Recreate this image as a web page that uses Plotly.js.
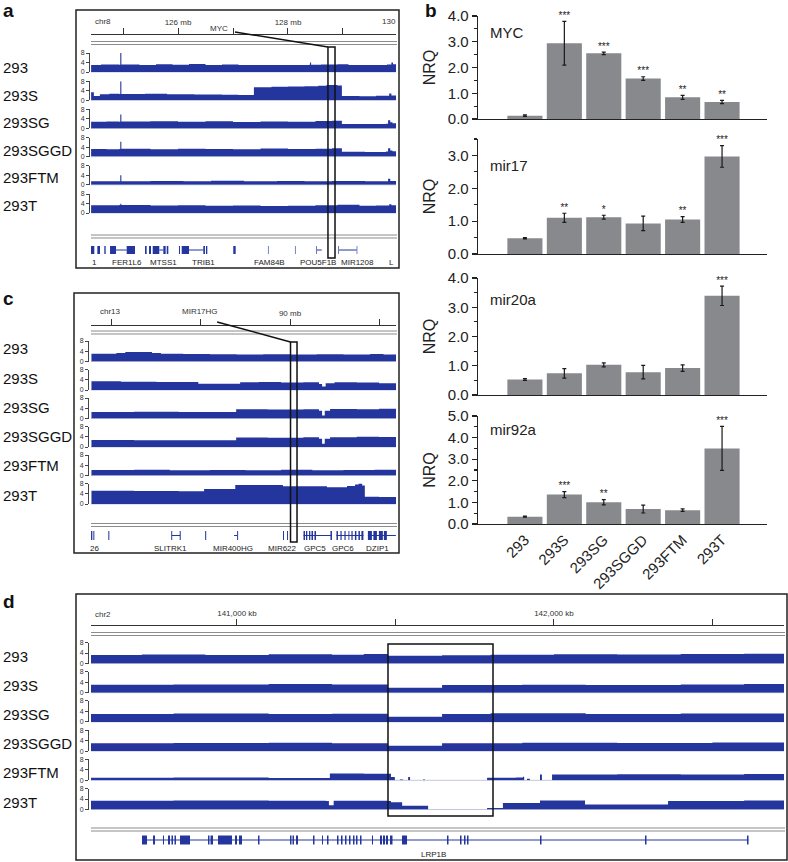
<!DOCTYPE html>
<html><head><meta charset="utf-8">
<script src="https://cdn.plot.ly/plotly-3.0.1.min.js"></script>
<style>html,body{margin:0;padding:0;background:#fff;}#chart{width:788px;height:862px;}</style>
</head><body><div id="chart"></div>
<script>
// ================= DATA =================
const samples = ['293','293S','293SG','293SGGD','293FTM','293T'];

// ---- Panel a: chr8 coverage, x in Mb, value on 0-8 scale ----
const a293 = [[124.42,3.0],[124.6,3.2],[124.93,3.1],[124.95,8],[124.97,3.2],[125.3,3.0],[125.6,3.3],[125.9,3.1],[126.2,3.4],[126.5,3.0],[126.8,3.2],[127.1,3.0],[127.4,2.9],[127.7,3.0],[128.38,3.1],[128.4,4.0],[128.42,3.1],[128.6,3.2],[128.9,3.3],[129.1,2.9],[129.5,3.0],[129.8,3.2],[129.88,4.0],[129.91,3.3],[129.97,3.3]];
const a293S = [[124.42,3.3],[124.47,1.8],[124.58,2.5],[124.75,2.7],[124.93,2.6],[124.95,8],[124.97,2.6],[125.4,2.7],[125.8,2.5],[126.3,2.4],[126.8,2.3],[127.1,2.2],[127.38,5.5],[127.7,5.7],[128.0,5.8],[128.3,5.9],[128.55,6.1],[128.7,6.4],[128.9,6.2],[128.98,1.8],[129.3,1.7],[129.6,1.9],[129.84,2.8],[129.88,2.0],[129.97,2.0]];
const a293SG = [[124.42,2.8],[124.7,2.9],[124.93,2.8],[124.95,5.8],[124.97,2.9],[125.5,3.0],[126.0,2.8],[126.5,3.0],[127.0,2.7],[127.5,2.9],[128.0,2.8],[128.5,3.1],[128.8,3.2],[128.98,1.8],[129.4,1.9],[129.78,2.0],[129.82,3.4],[129.86,2.6],[129.9,2.2],[129.97,2.4]];
const a293SGGD = [[124.42,3.2],[124.7,3.1],[124.93,3.2],[124.95,6.3],[124.97,3.3],[125.5,3.1],[126.0,3.3],[126.5,3.2],[127.0,3.1],[127.5,3.4],[128.0,3.2],[128.5,3.3],[128.8,3.5],[128.98,2.0],[129.4,1.9],[129.78,2.1],[129.82,3.5],[129.86,2.6],[129.9,2.3],[129.97,2.5]];
const a293FTM = [[124.42,1.5],[124.93,1.5],[124.95,4.0],[124.97,1.5],[125.5,1.6],[126.1,1.5],[126.6,1.7],[127.2,1.5],[127.8,1.6],[128.3,1.5],[128.8,1.6],[129.4,1.5],[129.82,2.5],[129.86,1.6],[129.97,1.6]];
const a293T = [[124.42,3.3],[124.93,3.4],[124.95,3.9],[124.97,3.4],[125.5,3.2],[126.0,3.3],[126.5,3.1],[127.0,3.2],[127.5,3.0],[128.0,3.1],[128.5,3.3],[128.9,3.5],[129.3,3.1],[129.6,3.2],[129.84,3.7],[129.88,3.3],[129.97,3.3]];

// ---- Panel c: chr13 coverage ----
const c293 = [[85.54,3.0],[86.1,3.3],[86.3,3.7],[86.9,3.3],[87.1,3.0],[87.6,2.9],[88.2,2.8],[88.8,2.7],[89.4,2.8],[90.0,2.7],[90.6,2.8],[91.2,2.7],[91.8,2.9],[92.1,2.7],[92.38,2.7]];
const c293S = [[85.54,3.4],[86.2,3.2],[87.0,3.1],[87.94,2.4],[88.88,3.0],[89.3,3.1],[89.8,2.9],[90.3,3.0],[90.65,2.3],[90.72,1.4],[90.8,2.6],[91.0,3.0],[91.5,2.9],[92.0,2.6],[92.38,2.6]];
const c293SG = [[85.54,2.5],[86.5,2.6],[87.5,2.5],[88.79,3.6],[89.5,3.5],[90.3,3.6],[90.65,3.0],[90.72,1.2],[90.78,3.0],[90.9,3.7],[91.5,3.6],[92.0,3.8],[92.38,3.7]];
const c293SGGD = [[85.54,2.7],[86.5,2.6],[87.5,2.6],[88.79,3.7],[89.5,3.6],[90.3,3.8],[90.65,3.2],[90.72,1.3],[90.78,3.2],[90.9,3.8],[91.5,4.0],[92.0,3.9],[92.38,3.7]];
const c293FTM = [[85.54,2.1],[86.5,2.2],[87.3,2.0],[88.2,2.1],[89.0,2.0],[89.8,2.2],[90.5,2.0],[91.2,2.1],[91.9,2.2],[92.38,2.1]];
const c293T = [[85.54,5.2],[86.5,5.1],[87.5,5.0],[88.07,5.9],[88.77,7.4],[89.84,6.9],[90.83,6.5],[91.28,7.0],[91.46,7.6],[91.54,8.0],[91.62,7.2],[91.68,2.8],[92.0,2.7],[92.38,2.6]];

// ---- Panel d: chr2 coverage, x in kb ----
const d293 = [[140539,3.2],[140700,3.4],[140900,3.2],[141100,3.5],[141300,3.3],[141400,3.6],[141476,3.0],[141647,3.1],[141800,3.3],[142000,3.5],[142200,3.4],[142400,3.6],[142600,3.7],[142726,3.6]];
const d293S = [[140539,3.0],[140800,3.1],[141100,3.3],[141300,3.1],[141476,1.9],[141647,2.9],[141900,3.0],[142100,2.9],[142400,3.1],[142600,3.3],[142726,3.2]];
const d293SG = [[140539,3.0],[140800,3.2],[141100,3.0],[141300,3.1],[141476,2.0],[141647,3.0],[141800,3.3],[142100,3.0],[142400,3.2],[142726,3.1]];
const d293SGGD = [[140539,3.0],[140800,3.1],[141100,3.2],[141300,3.0],[141476,2.0],[141647,3.0],[141900,3.2],[142200,3.1],[142500,3.3],[142726,3.2]];
const d293FTM = [[140539,1.0],[140800,1.1],[141100,0.9],[141293,2.6],[141400,2.5],[141486,1.3],[141498,0],[141514,0.3],[141524,0],[141540,1.3],[141546,0],[141587,0.3],[141593,0],[141789,1.0],[141880,1.1],[141902,1.4],[141906,0],[141915,0.6],[141924,0],[141956,2.2],[141962,0],[141994,2.2],[142200,2.3],[142400,2.2],[142600,2.4],[142726,2.3]];
const d293T = [[140539,3.3],[140800,3.4],[141100,3.3],[141280,3.2],[141290,1.6],[141305,3.3],[141476,3.2],[141486,2.8],[141521,1.4],[141603,0],[141789,0.6],[141839,2.5],[141956,3.4],[142098,1.9],[142360,3.2],[142600,3.4],[142726,3.3]];

// ---- Rulers ----
const rulerA_vals = [125,126,127,128,129];
const rulerA_text = ['','126 mb','','128 mb',''];
const rulerC_vals = [86,88,90,92];
const rulerC_text = ['','','90 mb',''];
const rulerD_vals = [141000,141500,142000,142500];
const rulerD_text = ['141,000 kb','','142,000 kb',''];

// ---- Gene tracks ----
const geneA_exons = [[124.413,124.478],[124.533,124.582],[124.660,124.685],[124.764,124.873],[125.067,125.218],[125.400,125.430],[125.473,125.509],[125.540,125.660],[125.733,125.776],[125.795,125.824],[126.018,126.036],[126.067,126.200],[126.460,126.490],[126.509,126.533],[127.005,127.049],[127.636,127.647],[128.127,128.138],[128.515,128.527],[128.915,128.927],[129.249,129.260]];
const geneA_introns = [[124.873,125.067],[125.660,125.733],[126.200,126.460],[128.527,128.613],[128.927,129.249]];
const geneA_names = ['1','FER1L6','MTSS1','TRIB1','FAM84B','POU5F1B','MIR1208','L'];
const geneA_pos = [124.49,125.07,125.73,126.47,127.67,128.55,129.27,129.89];

const geneC_exons = [[85.531,85.560],[85.583,85.605],[85.919,85.942],[87.332,87.354],[87.522,87.545],[88.094,88.117],[88.812,88.834],[89.843,89.865],[89.933,89.955],[90.303,90.336],[90.359,90.388],[90.426,90.455],[90.482,90.516],[90.549,90.583],[90.908,90.942],[91.043,91.076],[91.132,91.159],[91.222,91.249],[91.312,91.332],[91.379,91.406],[91.457,91.491],[91.536,91.570],[91.603,91.648],[91.749,91.839],[91.872,91.951],[91.996,92.085],[92.108,92.175]];
const geneC_introns = [[87.343,87.533],[88.744,88.812],[90.303,90.942],[91.043,91.648],[91.749,92.377]];
const geneC_names = ['26','SLITRK1','MIR400HG','MIR622','GPC5','GPC6','DZIP1'];
const geneC_pos = [85.605,87.31,88.72,89.82,90.56,91.19,91.97];

const geneD_exons = [[140700.3,140716.0],[140735.0,140741.3],[140766.5,140769.7],[140782.3,140788.6],[140793.3,140798.1],[140802.8,140807.5],[140820.2,140851.7],[140908.5,140913.2],[140916.4,140924.3],[140940.1,140984.2],[140993.7,141000],[141006.3,141015.8],[141066.3,141071.0],[141167.2,141171.9],[141175.1,141179.8],[141186.1,141192.5],[141239.8,141244.5],[141268.2,141271.3],[141284.0,141288.7],[141315.5,141320.2],[141328.1,141332.9],[141340.7,141345.5],[141353.4,141358.1],[141366.0,141370.7],[141375.4,141380.2],[141388.1,141392.8],[141425.9,141429.1],[141451.2,141457.5],[141460.6,141466.9],[141470.1,141476.4],[141482.7,141490.6],[141520.6,141536.4],[141662.6,141667.3],[141703.6,141708.3],[141716.2,141721.0],[141725.7,141730.4],[141956.0,141960.7],[142287.2,142292.0],[142609.1,142613.8]];
const geneD_introns = [[140700.3,142613.8]];
const geneD_names = ['LRP1B'];
const geneD_pos = [141621.5];

// highlighted regions and marker gene positions
const hlA = [128.727,128.855]; const mycPos = 127.036;
const hlC = [90.011,90.157];   const mir17hgPos = 88.363;
const hlD = [141476.4,141807.7];

// ---- Panel b: qPCR NRQ ----
const nrqMYC   = [0.13, 2.94, 2.55, 1.57, 0.84, 0.66];
const errMYC   = [0.03, 0.85, 0.05, 0.07, 0.08, 0.06];
const sigMYC   = ['', '***', '***', '***', '**', '**'];
const nrqMir17 = [0.48, 1.10, 1.12, 0.93, 1.05, 2.97];
const errMir17 = [0.02, 0.14, 0.06, 0.22, 0.09, 0.33];
const sigMir17 = ['', '**', '*', '', '**', '***'];
const nrqMir20a = [0.53, 0.74, 1.03, 0.78, 0.92, 3.39];
const errMir20a = [0.03, 0.16, 0.07, 0.23, 0.11, 0.33];
const sigMir20a = ['', '', '', '', '', '***'];
const nrqMir92a = [0.34, 1.36, 1.01, 0.69, 0.64, 3.50];
const errMir92a = [0.02, 0.14, 0.12, 0.18, 0.06, 1.02];
const sigMir92a = ['', '***', '**', '', '', '***'];

// ================= DRAWING =================
const W = 788, H = 862;
const px = v => v / W, py = v => 1 - v / H;
const BLUE = '#24369e';
const FONT = '"Liberation Sans", Arial, Helvetica, sans-serif';
const shapes = [], annotations = [], traces = [];
const layout = {
  width: W, height: H, margin: {l:0, r:0, t:0, b:0},
  paper_bgcolor: '#ffffff', plot_bgcolor: 'rgba(0,0,0,0)',
  showlegend: false, hovermode: false,
  font: {family: FONT, color: '#222'}
};
const axKey = (p, n) => n === 1 ? p + 'axis' : p + 'axis' + n;
const axRef = (p, n) => n === 1 ? p : p + n;
let yCount = 0;

const panels = [
  {xn:1, box:[76,10,399,268], dom:[91,396], range:[124.418,129.964], ruler:34, tl:6,
   tv:rulerA_vals, tt:rulerA_text, dbl1:41.5, dbl2:235, base0:72, step:28.2, th:19, axX:89,
   lab0:67.5, labStep:27.6, geneY:250, geneH:8, geneLabY:262,
   tracks:[a293,a293S,a293SG,a293SGGD,a293FTM,a293T],
   exons:geneA_exons, introns:geneA_introns, gnames:geneA_names, gpos:geneA_pos},
  {xn:2, box:[74,293,399,553], dom:[91,396], range:[85.53,92.38], ruler:325, tl:6,
   tv:rulerC_vals, tt:rulerC_text, dbl1:331, dbl2:523.5, base0:361.5, step:28.5, th:20.5, axX:88,
   lab0:349, labStep:29.2, geneY:535.5, geneH:9, geneLabY:548,
   tracks:[c293,c293S,c293SG,c293SGGD,c293FTM,c293T],
   exons:geneC_exons, introns:geneC_introns, gnames:geneC_names, gpos:geneC_pos},
  {xn:3, box:[76,594,787,860], dom:[91,784], range:[140539.4,142725.8], ruler:625, tl:6,
   tv:rulerD_vals, tt:rulerD_text, dbl1:632.5, dbl2:828, base0:663.5, step:29.2, th:21, axX:88,
   lab0:656, labStep:29.2, geneY:840, geneH:9, geneLabY:854,
   tracks:[d293,d293S,d293SG,d293SGGD,d293FTM,d293T],
   exons:geneD_exons, introns:geneD_introns, gnames:geneD_names, gpos:geneD_pos}
];

panels.forEach(p => {
  const xr = axRef('x', p.xn);
  shapes.push({type:'rect', xref:'paper', yref:'paper', x0:px(p.box[0]), x1:px(p.box[2]),
    y0:py(p.box[3]), y1:py(p.box[1]), line:{color:'#222', width:1.5}, fillcolor:'rgba(0,0,0,0)'});
  layout[axKey('x', p.xn)] = {
    domain:[px(p.dom[0]), px(p.dom[1])], range:p.range, anchor:'free', position:py(p.ruler),
    side:'top', showline:true, linecolor:'#333', linewidth:1, ticks:'outside', ticklen:p.tl,
    tickwidth:1, tickcolor:'#333', tickmode:'array', tickvals:p.tv, ticktext:p.tt,
    tickfont:{size:8, color:'#333'}, showgrid:false, zeroline:false, fixedrange:true
  };
  [p.dbl1, p.dbl2].forEach(y => {
    [0, 3].forEach(o => shapes.push({type:'line', xref:'paper', yref:'paper',
      x0:px(p.dom[0]), x1:px(p.box[2]-2), y0:py(y+o), y1:py(y+o), line:{color:'#8c8c8c', width:1.2}}));
  });
  p.tracks.forEach((tr, i) => {
    yCount++;
    const base = p.base0 + p.step * i;
    layout[axKey('y', yCount)] = {
      domain:[py(base), py(base - p.th)], range:[0,8], anchor:'free', position:px(p.axX),
      showline:true, linecolor:'#444', linewidth:1, ticks:'outside', ticklen:3, tickwidth:1,
      tickcolor:'#444', tickmode:'array', tickvals:[0,4,8], tickfont:{size:7, color:'#333'},
      showgrid:false, zeroline:false, fixedrange:true
    };
    shapes.push({type:'line', xref:'paper', yref:'paper', x0:px(p.dom[0]), x1:px(p.dom[1]),
      y0:py(base), y1:py(base), line:{color:'#c3c7da', width:1}, layer:'below'});
    traces.push({type:'scatter', mode:'lines', x:tr.map(d => d[0]), y:tr.map(d => d[1]),
      xaxis:xr, yaxis:axRef('y', yCount), line:{shape:'hv', width:0, color:BLUE},
      fill:'tozeroy', fillcolor:BLUE, hoverinfo:'skip'});
    annotations.push({text:samples[i], xref:'paper', yref:'paper', x:px(1), y:py(p.lab0 + p.labStep * i),
      xanchor:'left', yanchor:'middle', showarrow:false, font:{size:15, color:'#111'}});
  });
  p.introns.forEach(g => shapes.push({type:'line', xref:xr, yref:'paper', x0:g[0], x1:g[1],
    y0:py(p.geneY), y1:py(p.geneY), line:{color:BLUE, width:1}}));
  p.exons.forEach(g => shapes.push({type:'rect', xref:xr, yref:'paper', x0:g[0], x1:g[1],
    y0:py(p.geneY + p.geneH/2), y1:py(p.geneY - p.geneH/2), line:{width:0}, fillcolor:BLUE}));
  p.gnames.forEach((n, k) => annotations.push({text:n, xref:xr, yref:'paper', x:p.gpos[k],
    y:py(p.geneLabY), xanchor:'center', yanchor:'middle', showarrow:false, font:{size:8, color:'#222'}}));
});

const rtxt = (t, x, y, anchor) => annotations.push({text:t, xref:'paper', yref:'paper', x:px(x), y:py(y),
  xanchor:anchor || 'center', yanchor:'middle', showarrow:false, font:{size:8, color:'#333'}});
rtxt('chr8', 103, 21); rtxt('MYC', 219, 29); rtxt('130', 398, 21, 'right');
rtxt('chr13', 110, 312); rtxt('MIR17HG', 200, 312);
rtxt('chr2', 103, 614);

const blk = {color:'#111', width:1.5};
shapes.push({type:'rect', xref:'x', yref:'paper', x0:hlA[0], x1:hlA[1], y0:py(258), y1:py(47), line:blk, fillcolor:'rgba(0,0,0,0)'});
shapes.push({type:'line', xref:'x', yref:'paper', x0:mycPos, x1:hlA[0], y0:py(32), y1:py(47), line:blk});
shapes.push({type:'rect', xref:'x2', yref:'paper', x0:hlC[0], x1:hlC[1], y0:py(542), y1:py(342), line:blk, fillcolor:'rgba(0,0,0,0)'});
shapes.push({type:'line', xref:'x2', yref:'paper', x0:mir17hgPos, x1:hlC[0], y0:py(322), y1:py(342), line:blk});
shapes.push({type:'rect', xref:'x3', yref:'paper', x0:hlD[0], x1:hlD[1], y0:py(816), y1:py(644), line:blk, fillcolor:'rgba(0,0,0,0)'});

// ---- Panel b ----
const barSets = [
  {name:'MYC',    v:nrqMYC,    e:errMYC,    s:sigMYC,    top:16,  bot:119, ymax:4,   labY:32},
  {name:'mir17',  v:nrqMir17,  e:errMir17,  s:sigMir17,  top:139, bot:254, ymax:3.5, labY:166},
  {name:'mir20a', v:nrqMir20a, e:errMir20a, s:sigMir20a, top:278, bot:395, ymax:4,   labY:300},
  {name:'mir92a', v:nrqMir92a, e:errMir92a, s:sigMir92a, top:416, bot:524, ymax:5,   labY:429}
];
barSets.forEach((b, k) => {
  const xn = 4 + k; yCount++;
  const yn = yCount;
  const last = k === barSets.length - 1;
  layout[axKey('x', xn)] = {
    domain:[px(478), px(767)], type:'category', categoryorder:'array', categoryarray:samples,
    range:[-1.19, 6.14], anchor:axRef('y', yn), showline:true, linecolor:'#222', linewidth:1.3,
    ticks:'', showticklabels:last, tickangle:-45, tickfont:{size:15, color:'#222'},
    showgrid:false, zeroline:false, fixedrange:true
  };
  layout[axKey('y', yn)] = {
    domain:[py(b.bot), py(b.top)], range:[0, b.ymax], anchor:axRef('x', xn),
    showline:true, linecolor:'#222', linewidth:1.3, ticks:'outside', ticklen:5, tickwidth:1.2,
    tickcolor:'#222', tick0:0, dtick:1, tickformat:'.1f', tickfont:{size:15, color:'#222'},
    minor:{dtick:0.5, ticks:'outside', ticklen:3, tickwidth:1.2, tickcolor:'#222', showgrid:false},
    showgrid:false, zeroline:false, fixedrange:true,
    title:{text:'NRQ', font:{size:16, color:'#222'}, standoff:8}
  };
  traces.push({type:'bar', x:samples, y:b.v, xaxis:axRef('x', xn), yaxis:axRef('y', yn),
    width:0.89, marker:{color:'#88898d', line:{width:0}},
    error_y:{type:'data', array:b.e, visible:true, color:'#1a1a1a', thickness:1.2, width:2},
    hoverinfo:'skip'});
  traces.push({type:'scatter', mode:'text', x:samples, y:b.v.map((v, i) => v + b.e[i]),
    text:b.s, textposition:'top center', textfont:{size:10, color:'#222222'},
    xaxis:axRef('x', xn), yaxis:axRef('y', yn), cliponaxis:false, hoverinfo:'skip'});
  annotations.push({text:b.name, xref:'paper', yref:'paper', x:px(488), y:py(b.labY),
    xanchor:'left', yanchor:'middle', showarrow:false, font:{size:15, color:'#222'}});
});

[['a',1,11],['b',423,11],['c',1,298],['d',1,601]].forEach(l => annotations.push({
  text:'<b>' + l[0] + '</b>', xref:'paper', yref:'paper', x:px(l[1]), y:py(l[2]),
  xanchor:'left', yanchor:'middle', showarrow:false, font:{size:19, color:'#111'}}));

layout.shapes = shapes;
layout.annotations = annotations;
Plotly.newPlot('chart', traces, layout, {staticPlot:true, displayModeBar:false});
</script></body></html>
